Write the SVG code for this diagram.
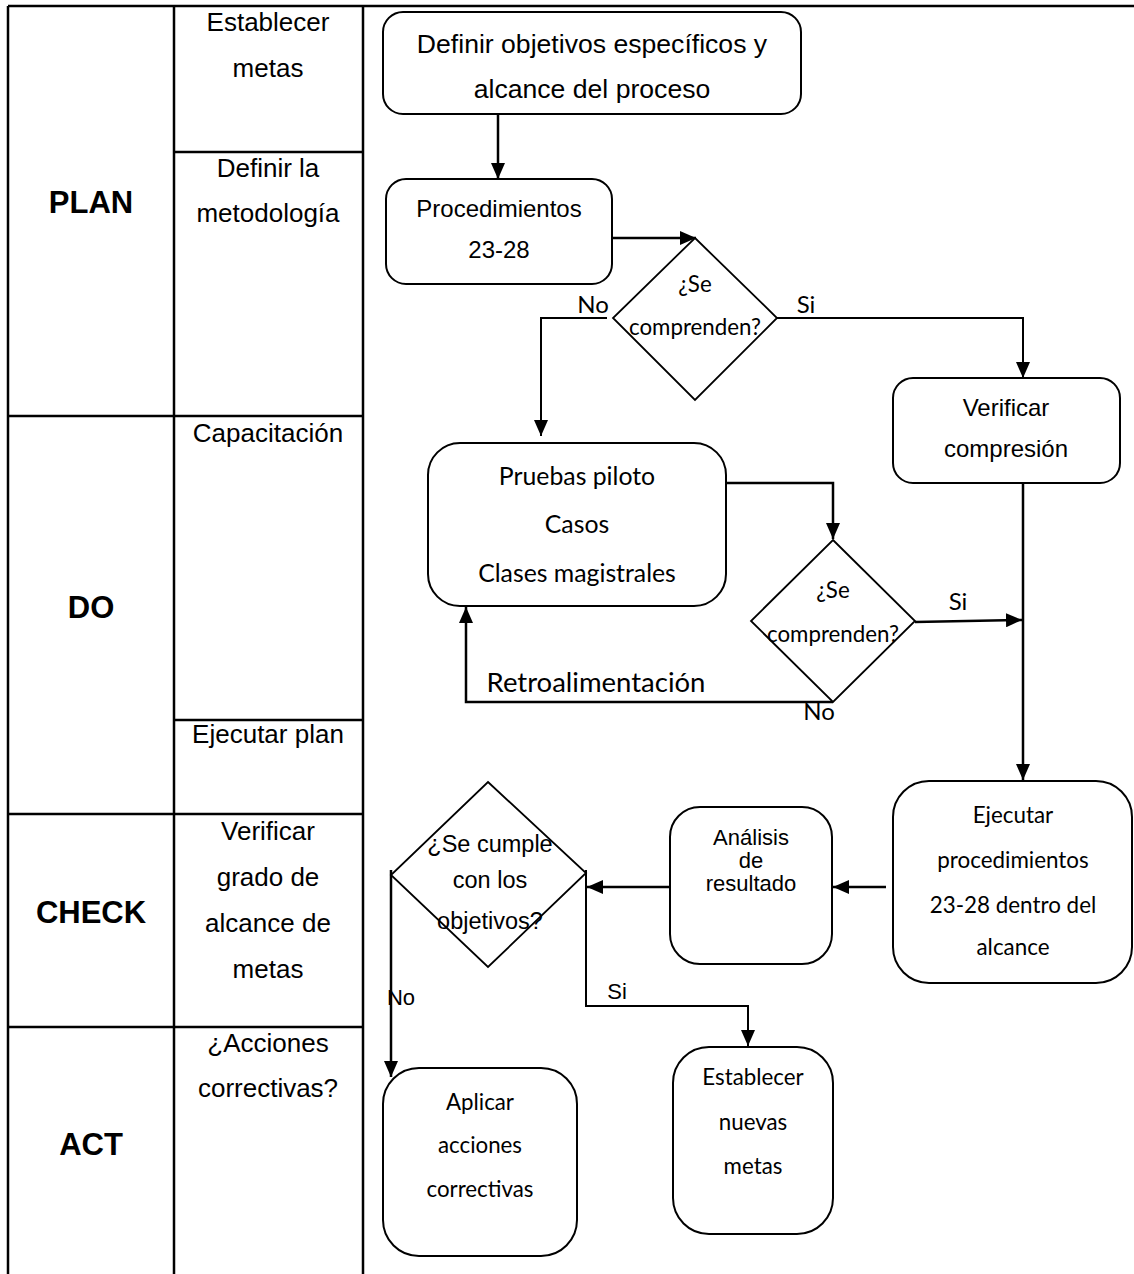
<svg xmlns="http://www.w3.org/2000/svg" width="1134" height="1274" viewBox="0 0 1134 1274">
<defs>
<style>
.tbl{stroke:#000;stroke-width:2.5;fill:none}
.box{fill:#fff;stroke:#000;stroke-width:2}
.dia{fill:#fff;stroke:#000;stroke-width:1.8}
.ar{font-family:"Liberation Sans",Arial,sans-serif;fill:#000;text-anchor:middle}
.ca{font-family:Lato,"Open Sans",sans-serif;fill:#000;text-anchor:middle}
.ph{font-size:31px;font-weight:bold}
.lb{font-size:26px}
.cn{stroke:#000;stroke-width:2.5;fill:none;marker-end:url(#ah)}
</style>
<marker id="ah" viewBox="0 0 16 14" refX="16" refY="7" markerWidth="16" markerHeight="14" markerUnits="userSpaceOnUse" orient="auto"><path d="M0,0 L16,7 L0,14 z" fill="#000"/></marker>
</defs>
<rect width="1134" height="1274" fill="#fff"/>
<g id="table">
<path class="tbl" d="M8,6 H1134 M8,6 V1274 M174,6 V1274 M363,6 V1274 M174,152 H363 M8,416 H363 M174,720 H363 M8,814 H363 M8,1027 H363"/>
<g class="ar ph"><text x="91" y="213">PLAN</text><text x="91" y="618">DO</text><text x="91" y="923">CHECK</text><text x="91" y="1155">ACT</text></g>
<g class="ar lb">
<text x="268" y="31">Establecer</text><text x="268" y="77">metas</text>
<text x="268" y="177">Definir la</text><text x="268" y="222">metodología</text>
<text x="268" y="442">Capacitación</text>
<text x="268" y="743">Ejecutar plan</text>
<text x="268" y="840">Verificar</text><text x="268" y="886">grado de</text><text x="268" y="932">alcance de</text><text x="268" y="978">metas</text>
<text x="268" y="1052">¿Acciones</text><text x="268" y="1097">correctivas?</text>
</g>
</g>
<g id="connectors">
<path class="cn" d="M498,114 V179"/>
<path class="cn" d="M612,238 H696"/>
<path class="cn" style="stroke-width:2" d="M607,318 H541 V436"/>
<path class="cn" style="stroke-width:2" d="M777,318 H1023 V378"/>
<path class="cn" d="M726,483 H833 V539"/>
<path class="cn" d="M915,622 L1022,620"/>
<path class="cn" d="M833,702 H466 V607"/>
<path class="cn" d="M1023,483 V780"/>
<path class="cn" d="M886,887 H833"/>
<path class="cn" d="M670,887 H587"/>
<path class="cn" style="stroke-width:2" d="M586,870 V1006 H748 V1046"/>
<path class="cn" d="M391,870 V1077"/>
<g class="ca" style="font-size:24px">
<text x="593" y="313">No</text>
<text x="806" y="313">Si</text>
<text x="958" y="610">Si</text>
<text x="819" y="720">No</text>
<text x="596" y="692" style="font-size:27.5px">Retroalimentación</text>
</g>
<g class="ar" style="font-size:22px">
<text x="401" y="1005">No</text>
<text x="617" y="999">Si</text>
</g>
</g>
<g id="n1"><rect class="box" x="383" y="12" width="418" height="102" rx="20"/>
<text class="ar" style="font-size:26.6px" x="592" y="53">Definir objetivos específicos y</text>
<text class="ar" style="font-size:26.6px" x="592" y="98">alcance del proceso</text></g>
<g id="n2"><rect class="box" x="386" y="179" width="226" height="105" rx="20"/>
<text class="ar" style="font-size:24px" x="499" y="217">Procedimientos</text>
<text class="ar" style="font-size:24px" x="499" y="258">23-28</text></g>
<g id="d1"><polygon class="dia" points="695,238 777,318 695,400 613,318"/>
<text class="ca" style="font-size:22.3px" x="695" y="292">¿Se</text>
<text class="ca" style="font-size:22.3px" x="695" y="335">comprenden?</text></g>
<g id="n3"><rect class="box" x="893" y="378" width="227" height="105" rx="20"/>
<text class="ar" style="font-size:24px" x="1006" y="416">Verificar</text>
<text class="ar" style="font-size:24px" x="1006" y="457">compresión</text></g>
<g id="n4"><rect class="box" x="428" y="443" width="298" height="163" rx="32"/>
<text class="ca" style="font-size:24.8px" x="577" y="485">Pruebas piloto</text>
<text class="ca" style="font-size:24.8px" x="577" y="533">Casos</text>
<text class="ca" style="font-size:24.8px" x="577" y="582">Clases magistrales</text></g>
<g id="d2"><polygon class="dia" points="833,540 915,621 833,702 751,621"/>
<text class="ca" style="font-size:22.3px" x="833" y="598">¿Se</text>
<text class="ca" style="font-size:22.3px" x="833" y="642">comprenden?</text></g>
<g id="n5"><rect class="box" x="893" y="781" width="239" height="202" rx="36"/>
<text class="ca" style="font-size:22.4px" x="1013" y="823">Ejecutar</text>
<text class="ca" style="font-size:22.4px" x="1013" y="868">procedimientos</text>
<text class="ca" style="font-size:22.4px" x="1013" y="913">23-28 dentro del</text>
<text class="ca" style="font-size:22.4px" x="1013" y="955">alcance</text></g>
<g id="n6"><rect class="box" x="670" y="807" width="162" height="157" rx="30"/>
<text class="ar" style="font-size:22px" x="751" y="845">Análisis</text>
<text class="ar" style="font-size:22px" x="751" y="868">de</text>
<text class="ar" style="font-size:22px" x="751" y="891">resultado</text></g>
<g id="d3"><polygon class="dia" points="488,782 586,873 488,967 391,875"/>
<text class="ar" style="font-size:23.5px" x="490" y="852">¿Se cumple</text>
<text class="ar" style="font-size:23.5px" x="490" y="888">con los</text>
<text class="ar" style="font-size:23.5px" x="490" y="929">objetivos?</text></g>
<g id="n7"><rect class="box" x="383" y="1068" width="194" height="188" rx="36"/>
<text class="ca" style="font-size:22.3px" x="480" y="1110">Aplicar</text>
<text class="ca" style="font-size:22.3px" x="480" y="1153">acciones</text>
<text class="ca" style="font-size:22.3px" x="480" y="1197">correctivas</text></g>
<g id="n8"><rect class="box" x="673" y="1047" width="160" height="187" rx="36"/>
<text class="ca" style="font-size:22.3px" x="753" y="1085">Establecer</text>
<text class="ca" style="font-size:22.3px" x="753" y="1130">nuevas</text>
<text class="ca" style="font-size:22.3px" x="753" y="1174">metas</text></g>
</svg>
